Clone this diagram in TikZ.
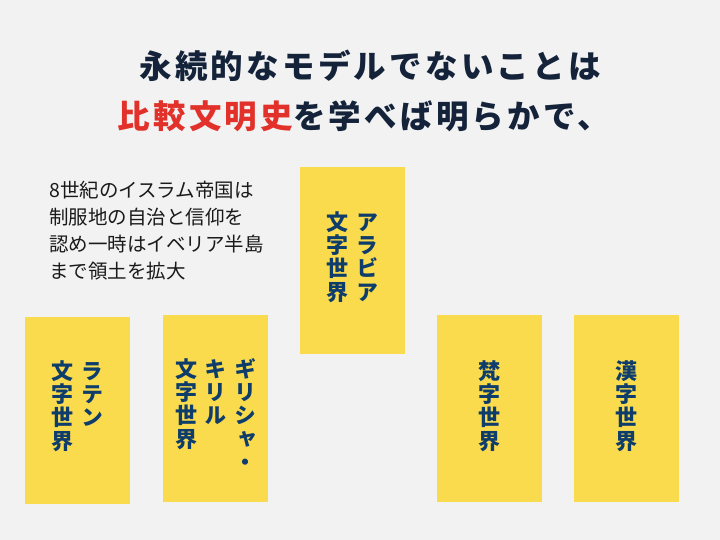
\documentclass[tikz,border=0pt]{standalone}
\usepackage{fontspec}
\usetikzlibrary{positioning}
\newfontfamily\jp{Noto Sans CJK JP}
\newfontfamily\jphead[LetterSpace=10]{Noto Sans CJK JP}
\newfontfamily\jptate[RawFeature=+vert]{Noto Sans CJK JP}
\definecolor{bggray}{HTML}{F2F2F2}
\definecolor{cardyellow}{HTML}{FADB4E}
\definecolor{cardblue}{HTML}{0E3D6B}
\definecolor{ink}{HTML}{14233A}
\definecolor{accent}{HTML}{E2312A}
\definecolor{notegray}{HTML}{1A1A1A}
% one vertical column of characters
\newcommand{\tcol}[1]{\parbox[t]{29.5pt}{\centering #1}}
\begin{document}
\begin{tikzpicture}[x=1pt,y=-1pt,
  card/.style={fill=cardyellow,minimum width=105pt,minimum height=187pt,inner sep=0pt,anchor=north west},
  cardtext/.style={anchor=north,inner sep=0pt,text=cardblue,font=\jptate\bfseries\fontsize{22}{23.4}\selectfont},
  head/.style={inner sep=0pt,font=\jphead\bfseries\fontsize{32.5}{36}\selectfont}]
  \fill[bggray] (0,0) rectangle (720,540);
  % title
  \node[head,text=ink] (line1) at (370,66) {永続的なモデルでないことは};
  \node[head,text=ink] (line2) at (364,116) {\textcolor{accent}{比較文明史}を学べば明らかで、};
  % note
  \node[anchor=north west,align=left,inner sep=0pt,text=notegray,font=\jp\fontsize{19.5}{27}\selectfont] (note) at (49,181) {8世紀のイスラム帝国は\\制服地の自治と信仰を\\認め一時はイベリア半島\\まで領土を拡大};
  % cards
  \node[card] (latin) at (25,317) {};
  \node[card] (greek) at (163,315) {};
  \node[card] (arabic) at (300,167) {};
  \node[card] (bonji) at (437,315) {};
  \node[card] (kanji) at (574,315) {};
  \node[cardtext,below=43pt of latin.north] (latintext) {\tcol{文\\字\\世\\界}\tcol{ラ\\テ\\ン}};
  \node[cardtext,below=43pt of greek.north] (greektext) {\tcol{文\\字\\世\\界}\tcol{キ\\リ\\ル}\tcol{ギ\\リ\\シ\\ャ\\・}};
  \node[cardtext,below=44pt of arabic.north] (arabictext) {\tcol{文\\字\\世\\界}\tcol{ア\\ラ\\ビ\\ア}};
  \node[cardtext,below=45pt of bonji.north] (bonjitext) {\tcol{梵\\字\\世\\界}};
  \node[cardtext,below=45pt of kanji.north] (kanjitext) {\tcol{漢\\字\\世\\界}};
\end{tikzpicture}
\end{document}
